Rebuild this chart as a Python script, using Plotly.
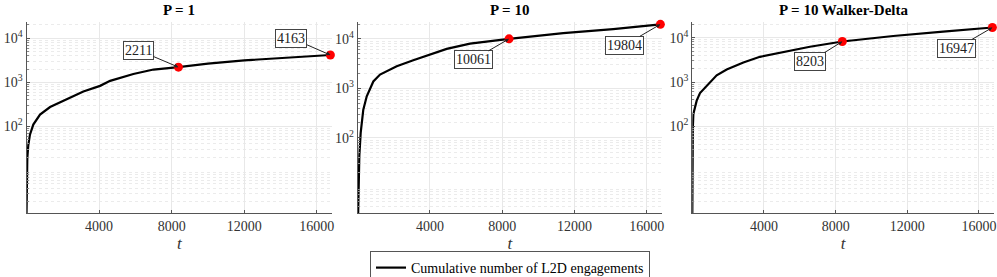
import plotly.graph_objects as go
import math

# ---- data ----
panel_titles = ["P = 1", "P = 10", "P = 10 Walker-Delta"]

t_p1 = [0, 20, 45, 100, 190, 375, 745, 1300, 2215, 3135, 4055, 4610, 5890, 7000, 8375, 10000, 12000, 14000, 16750]
n_p1 = [1, 5, 19, 38, 65, 110, 186, 275, 410, 617, 832, 1080, 1545, 1950, 2211, 2650, 3150, 3600, 4163]

t_p10 = [0, 30, 90, 165, 310, 500, 865, 1235, 2160, 3075, 4000, 4925, 6215, 8375, 11375, 14140, 16750]
n_p10 = [1, 3, 43, 125, 370, 690, 1380, 1900, 2800, 3700, 4800, 6300, 8040, 10061, 13100, 15900, 19804]

t_wd = [0, 10, 30, 60, 245, 430, 800, 1360, 1920, 2850, 3775, 4710, 6565, 8375, 11215, 14000, 16750]
n_wd = [1, 20, 95, 190, 380, 565, 810, 1420, 1910, 2760, 3700, 4420, 6250, 8203, 10900, 13700, 16947]

series_t = [t_p1, t_p10, t_wd]
series_n = [n_p1, n_p10, n_wd]

mark_t = [8375, 16750]           # marked time steps
x_ticks = [4000, 8000, 12000, 16000]
y_ticks = [100, 1000, 10000]
y_ticktext = ["10<sup>2</sup>", "10<sup>3</sup>", "10<sup>4</sup>"]
y_minor = [m * 10 ** k for k in range(0, 5) for m in range(2, 10)]
x_range = [0, 16840]
y_ranges = [[0.03, 4.375], [0.47, 4.35], [0.04, 4.36]]
legend_label = "Cumulative number of L2D engagements"

# annotation box offsets (pixels) for each panel's two markers
ann_offsets = [[(-40, -17), (-39, -17)], [(-36, 21), (-36, 21)], [(-32, 20), (-36, 21)]]

# ---- layout ----
W, H = 997, 277
x_domains = [[26.5 / W, 332 / W], [357.7 / W, 662 / W], [692.3 / W, 994 / W]]
y_domain = [(H - 213.3) / H, (H - 21.7) / H]

FONT = "Liberation Serif, Times New Roman, serif"
fig = go.Figure()

annotations = []
for i in range(3):
    xa = "x" if i == 0 else f"x{i+1}"
    ya = "y" if i == 0 else f"y{i+1}"
    fig.add_trace(go.Scatter(
        x=series_t[i], y=series_n[i], mode="lines",
        line=dict(color="black", width=2.2),
        name=legend_label, showlegend=(i == 0),
        xaxis=xa, yaxis=ya, cliponaxis=True,
    ))
    mt, mv = [], []
    for tm in mark_t:
        idx = series_t[i].index(tm)
        mt.append(series_t[i][idx])
        mv.append(series_n[i][idx])
    fig.add_trace(go.Scatter(
        x=mt, y=mv, mode="markers",
        marker=dict(color="#ff0000", size=9),
        showlegend=False, xaxis=xa, yaxis=ya, cliponaxis=False,
    ))
    for j in range(2):
        ax, ay = ann_offsets[i][j]
        annotations.append(dict(
            x=mt[j], y=math.log10(mv[j]), xref=xa, yref=ya,
            text=str(mv[j]), showarrow=True, ax=ax, ay=ay,
            arrowhead=2, arrowsize=0.8, arrowwidth=1, arrowcolor="#222",
            bordercolor="#444", borderwidth=1, borderpad=1, bgcolor="white",
            font=dict(family=FONT, size=14, color="#222"),
        ))
    annotations.append(dict(
        x=(x_domains[i][0] + x_domains[i][1]) / 2, y=(H - 10) / H,
        xref="paper", yref="paper", text=f"<b>{panel_titles[i]}</b>",
        showarrow=False, font=dict(family=FONT, size=15, color="black"),
        xanchor="center", yanchor="middle",
    ))

    axis_common = dict(showline=True, linecolor="#555", linewidth=1, mirror=False,
                       ticks="inside", tickcolor="#555", ticklen=3, automargin=False,
                       tickfont=dict(family=FONT, size=14, color="#333"),
                       gridcolor="#e8e8e8", gridwidth=1, zeroline=False)
    xkey = "xaxis" if i == 0 else f"xaxis{i+1}"
    ykey = "yaxis" if i == 0 else f"yaxis{i+1}"
    fig.update_layout(**{
        xkey: dict(axis_common, domain=x_domains[i], anchor=ya, range=x_range,
                   tickvals=x_ticks, ticktext=[str(v) for v in x_ticks],
                   title=dict(text="<i>t</i>", font=dict(family=FONT, size=17, color="#333"), standoff=2)),
        ykey: dict(axis_common, domain=y_domain, anchor=xa, type="log", range=y_ranges[i],
                   tickvals=y_ticks, ticktext=y_ticktext,
                   minor=dict(tickvals=y_minor, showgrid=True, griddash="dot",
                              gridcolor="#ebebeb", ticks="inside", ticklen=2, tickcolor="#888")),
    })

fig.update_layout(
    width=W, height=H, margin=dict(l=0, r=0, t=0, b=0, autoexpand=False),
    paper_bgcolor="white", plot_bgcolor="white",
    annotations=annotations,
    showlegend=True, hovermode=False,
    legend=dict(x=510 / W, y=9 / H, xanchor="center", yanchor="middle",
                orientation="h", bordercolor="#555", borderwidth=1,
                font=dict(family=FONT, size=14, color="black"),
                bgcolor="white", itemwidth=30, tracegroupgap=0),
)

fig.write_html("out.html", config={"displayModeBar": False},
               post_script="document.body.style.margin='0';document.body.style.padding='0';")
